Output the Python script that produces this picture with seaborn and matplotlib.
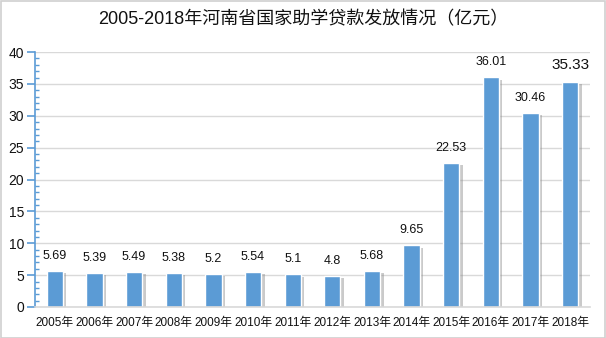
import matplotlib
matplotlib.use("Agg")
import matplotlib.pyplot as plt
import matplotlib.patheffects as pe
from matplotlib.ticker import MultipleLocator
import seaborn as sns
import pandas as pd

years = ["2005年", "2006年", "2007年", "2008年", "2009年", "2010年", "2011年",
         "2012年", "2013年", "2014年", "2015年", "2016年", "2017年", "2018年"]
values = [5.69, 5.39, 5.49, 5.38, 5.2, 5.54, 5.1, 4.8, 5.68, 9.65, 22.53, 36.01, 30.46, 35.33]
labels = ["5.69", "5.39", "5.49", "5.38", "5.2", "5.54", "5.1", "4.8", "5.68",
          "9.65", "22.53", "36.01", "30.46", "35.33"]
title = "2005-2018年河南省国家助学贷款发放情况（亿元）"

sns.set_theme(style="white")
plt.rcParams['font.family'] = ['Liberation Sans', 'Noto Sans CJK SC', 'DejaVu Sans']

df = pd.DataFrame({"year": years, "value": values})

fig = plt.figure(figsize=(6.06, 3.38), dpi=100)
ax = fig.add_axes([35/606, 1 - 307/338, 555/606, 255/338])

sns.barplot(data=df, x="year", y="value", color="#5B9BD5", saturation=1,
            width=0.41, ax=ax)

for p in ax.patches:
    p.set_path_effects([pe.SimplePatchShadow(offset=(2.5, -1.5), shadow_rgbFace="#8a8a8a", alpha=0.45),
                        pe.Normal()])

for i, (p, lab) in enumerate(zip(ax.patches, labels)):
    big = (i == len(labels) - 1)
    ax.annotate(lab, (p.get_x() + p.get_width() / 2, p.get_height()),
                xytext=(0, 17 if big else 15), textcoords="offset pixels",
                ha="center", va="center", fontsize=11 if big else 9, color="#111111")

ax.set_ylim(0, 40)
ax.yaxis.set_major_locator(MultipleLocator(5))
ax.yaxis.set_minor_locator(MultipleLocator(1))
ax.set_xlim(-0.5, len(years) - 0.5)
ax.grid(axis="y", color="#d9d9d9", linewidth=1)
ax.set_axisbelow(True)
ax.set_xlabel("")
ax.set_ylabel("")

for s in ["top", "right"]:
    ax.spines[s].set_visible(False)
ax.spines["left"].set_color("#5B9BD5")
ax.spines["left"].set_linewidth(1.2)
ax.spines["bottom"].set_color("#d9d9d9")
ax.spines["bottom"].set_linewidth(1.2)

ax.tick_params(axis="y", which="major", direction="out", length=6, color="#5B9BD5",
               width=1.2, labelsize=10, labelcolor="#111111", left=True, pad=2)
ax.tick_params(axis="y", which="minor", direction="in", length=3, color="#5B9BD5",
               width=1, left=True)
ax.tick_params(axis="x", length=0, labelsize=8.5, labelcolor="#111111", pad=7)

fig.text(0.5, 1 - 20/338, title, ha="center", va="center", fontsize=13, color="#111111")

border = plt.Rectangle((0.5/606, 0.5/338), 1 - 1.5/606, 1 - 1.5/338, transform=fig.transFigure,
                       fill=False, edgecolor="#d0d0d0", linewidth=1.2)
fig.patches.append(border)

fig.savefig("out.png", dpi=100)
